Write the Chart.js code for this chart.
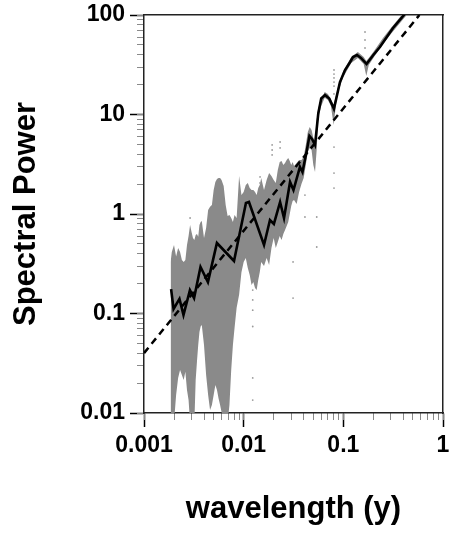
<!DOCTYPE html>
<html>
<head>
<meta charset="utf-8">
<script src="https://cdn.jsdelivr.net/npm/chart.js@4.4.0/dist/chart.umd.min.js"></script>
<style>
  html, body { margin: 0; padding: 0; background: #fff; }
  #caja { width: 449px; height: 533px; }
</style>
</head>
<body>
<div id="caja"><canvas id="grafico"></canvas></div>
<script>
// Marcas de los ejes
var xTicks = [0.001, 0.01, 0.1, 1];
var yTicks = [0.01, 0.1, 1, 10, 100];

// Nube gris del espectro (borde superior e inferior)
var nubeX = [0.00185, 0.0019, 0.002, 0.0021, 0.0022, 0.0023, 0.0024, 0.0025, 0.0026, 0.0027,
   0.0028, 0.0029, 0.003, 0.0031, 0.0032, 0.0033, 0.0034, 0.0035, 0.0036, 0.0037,
   0.0038, 0.004, 0.0042, 0.0044, 0.0046, 0.0048, 0.005, 0.0052, 0.0054, 0.0056,
   0.0058, 0.006, 0.0063, 0.0066, 0.0069, 0.0072, 0.0075, 0.0078, 0.0081, 0.0085,
   0.009, 0.0095, 0.01, 0.0105, 0.011, 0.0115, 0.012, 0.0125, 0.013, 0.0135,
   0.014, 0.0145, 0.015, 0.016, 0.017, 0.018, 0.019, 0.02, 0.021, 0.022,
   0.023, 0.024, 0.025, 0.026, 0.027, 0.028, 0.029, 0.03, 0.031, 0.032,
   0.034, 0.036, 0.038, 0.04, 0.042, 0.044, 0.046, 0.048, 0.05, 0.052,
   0.054, 0.056, 0.06, 0.065, 0.07, 0.075, 0.08, 0.085, 0.09, 0.1,
   0.12, 0.14, 0.16, 0.17, 0.18, 0.2, 0.25, 0.3, 0.4, 0.45];
var nubeAlta = [0.330, 0.415, 0.488, 0.375, 0.455, 0.415, 0.345, 0.330, 0.345, 0.488,
   0.601, 0.775, 0.659, 0.574, 0.548, 0.615, 0.63, 0.59, 0.775, 0.831,
   0.85, 0.574, 0.723, 1.10, 1.18, 1.23, 1.74, 2.10, 2.25, 2.30,
   2.30, 2.20, 1.91, 1.23, 0.955, 0.977, 0.912, 0.831, 0.977, 0.912,
   2.41, 1.55, 1.66, 1.96, 2.05, 1.82, 1.74, 1.74, 1.66, 1.55,
   1.82, 1.96, 2.30, 1.74, 2.20, 2.58, 2.41, 2.20, 2.05, 2.77,
   3.33, 3.41, 3.11, 3.26, 3.49, 3.66, 3.41, 3.11, 3.33, 3.04,
   3.26, 3.49, 3.49, 3.74, 4.94, 6.67, 7.49, 6.98, 5.81, 5.29,
   8.81, 11.6, 14.0, 16.8, 16.1, 14.3, 12.5, 16.1, 20.3, 27.4,
   37.8, 42.5, 37.8, 34.5, 37.0, 42.5, 58.7, 74.0, 104.8, 120];
var nubeBaja = [0.008, 0.008, 0.008, 0.0152, 0.0225, 0.0271, 0.0241, 0.0215, 0.026, 0.0170,
   0.0135, 0.008, 0.008, 0.008, 0.008, 0.0215, 0.033, 0.0482, 0.065, 0.074,
   0.0766, 0.0482, 0.0241, 0.0152, 0.0107, 0.0120, 0.0152, 0.0191, 0.0170, 0.014,
   0.0120, 0.0102, 0.008, 0.008, 0.008, 0.0120, 0.0271, 0.0482, 0.0715, 0.114,
   0.154, 0.26, 0.330, 0.361, 0.287, 0.244, 0.193, 0.207, 0.180, 0.172,
   0.217, 0.26, 0.330, 0.30, 0.361, 0.307, 0.455, 0.574, 0.455, 0.523,
   0.601, 0.548, 0.63, 0.690, 0.757, 0.831, 1.00, 1.20, 1.35, 1.38,
   1.26, 1.66, 2.0, 2.30, 3.11, 4.20, 4.61, 4.40, 3.11, 2.64,
   4.40, 9.2, 12.2, 14.7, 14.0, 12.2, 7.84, 13.4, 17.6, 23.8,
   33.0, 37.0, 32.2, 24.4, 31.4, 37.0, 51.1, 64.4, 91.2, 104.8];

// Puntos sueltos de la nube
var sueltosX = [0.01233, 0.01233, 0.01233, 0.01233, 0.01233, 0.01233,
   0.0806, 0.0806, 0.0806, 0.0806, 0.0806, 0.0806, 0.0806, 0.0806, 0.0806,
   0.165, 0.165, 0.165, 0.0541, 0.0541, 0.0313, 0.0313, 0.0412, 0.0412,
   0.0193, 0.0193, 0.0193, 0.0232, 0.0232, 0.0146, 0.0146, 0.0029];
var sueltosY = [0.172, 0.137, 0.108, 0.074, 0.0225, 0.0135,
   28.0, 25.5, 23.3, 21.2, 19.3, 16.1, 4.71, 2.58, 1.82,
   67.5, 56.1, 46.6, 0.933, 0.466, 0.330, 0.143, 1.55, 0.933,
   4.94, 4.40, 3.92, 5.29, 4.61, 2.36, 2.05, 0.912];

// Curva negra (media)
var mediaX = [0.00187, 0.00198, 0.00227, 0.00249, 0.00289, 0.00318, 0.00369, 0.00438, 0.00539, 0.0080,
   0.01054, 0.0113, 0.016, 0.01836, 0.0201, 0.0232, 0.0254, 0.0292, 0.0316, 0.0367,
   0.0389, 0.0431, 0.0457, 0.0485, 0.052, 0.0561, 0.060, 0.0655, 0.0722, 0.0805,
   0.0925, 0.104, 0.117, 0.125, 0.137, 0.150, 0.171, 0.200, 0.233, 0.272,
   0.315, 0.406, 0.5];
var mediaY = [0.176, 0.111, 0.140, 0.0966, 0.172, 0.143, 0.293, 0.207, 0.511, 0.337,
   1.29, 1.32, 0.488, 0.871, 0.794, 1.32, 0.912, 2.10, 1.74, 2.97,
   2.64, 4.40, 6.08, 5.67, 4.94, 10.3, 14.5, 15.7, 14.5, 11.4,
   21.2, 28.0, 33.7, 37.8, 39.6, 37.0, 32.2, 39.6, 47.7, 59.7,
   74, 100, 125];

// Recta de ajuste (discontinua)
var ajusteX = [0.001, 0.58];
var ajusteY = [0.040, 100];

var fuente = 'Liberation Sans, Arial, Helvetica, sans-serif';

function puntos(xs, ys) {
   return xs.map(function (x, i) { return { x: x, y: ys[i] }; });
}

function marcasMenores(min, max) {
   var v = [];
   var e0 = Math.round(Math.log10(min));
   var e1 = Math.round(Math.log10(max));
   for (var e = e0; e < e1; e++) {
      for (var k = 1; k <= 9; k++) v.push({ value: k * Math.pow(10, e) });
   }
   v.push({ value: max });
   return v;
}

// quita el margen extra que Chart.js reserva para la primera/última etiqueta
function sinRelleno(s) {
   s.paddingLeft = 0;
   s.paddingRight = 0;
   s.paddingTop = 0;
   s.paddingBottom = 0;
}

function ejeMenor(pos, min, max) {
   return {
      type: 'logarithmic', position: pos, weight: 0, min: min, max: max,
      afterBuildTicks: function (s) { s.ticks = marcasMenores(min, max); },
      afterFit: function (s) {
         if (pos === 'left') s.width = 0; else s.height = 0;
         sinRelleno(s);
      },
      ticks: { display: false, autoSkip: false },
      grid: { drawOnChartArea: false, tickLength: 7, tickWidth: 1, tickColor: '#8a8a8a' },
      border: { display: false }
   };
}

var ctx = document.getElementById('grafico').getContext('2d');

new Chart(ctx, {
   type: 'line',
   data: {
      datasets: [{
         label: 'media',
         data: puntos(mediaX, mediaY),
         xAxisID: 'x', yAxisID: 'y',
         borderColor: '#000',
         borderWidth: 2.6,
         pointRadius: 0,
         tension: 0,
         order: 0
      }, {
         label: 'ajuste',
         data: puntos(ajusteX, ajusteY),
         xAxisID: 'x', yAxisID: 'y',
         borderColor: '#000',
         borderWidth: 2.5,
         borderDash: [7, 5],
         pointRadius: 0,
         order: 1
      }, {
         label: 'sueltos',
         data: puntos(sueltosX, sueltosY),
         xAxisID: 'x', yAxisID: 'y',
         showLine: false,
         pointRadius: 0.9,
         pointBorderWidth: 0,
         pointBackgroundColor: '#9a9a9a',
         order: 2
      }, {
         label: 'nube alta',
         data: puntos(nubeX, nubeAlta),
         xAxisID: 'x', yAxisID: 'y',
         borderColor: 'rgba(0,0,0,0)',
         borderWidth: 0,
         pointRadius: 0,
         fill: false,
         order: 3
      }, {
         label: 'nube baja',
         data: puntos(nubeX, nubeBaja),
         xAxisID: 'x', yAxisID: 'y',
         borderColor: 'rgba(0,0,0,0)',
         borderWidth: 0,
         pointRadius: 0,
         fill: '-1',
         backgroundColor: '#8a8a8a',
         order: 4
      }]
   },
   options: {
      responsive: true,
      maintainAspectRatio: false,
      animation: false,
      layout: { padding: { top: 15, right: 6, left: 0, bottom: 0 } },
      plugins: {
         legend: { display: false },
         tooltip: { enabled: false }
      },
      scales: {
         x: {
            type: 'logarithmic', position: 'bottom', weight: 1,
            min: 0.001, max: 1,
            afterBuildTicks: function (s) { s.ticks = xTicks.map(function (v) { return { value: v }; }); },
            afterFit: function (s) { s.height = 120; sinRelleno(s); },
            ticks: {
               autoSkip: false, maxRotation: 0, padding: 5, color: '#000',
               font: { family: fuente, size: 23, weight: 'bold' },
               callback: function (v) { return String(v); }
            },
            grid: { drawOnChartArea: false, tickLength: 14, tickWidth: 1.5, tickColor: '#000' },
            border: { color: '#222', width: 1.5 },
            title: {
               display: true, text: 'wavelength (y)', color: '#000',
               font: { family: fuente, size: 31, weight: 'bold' },
               padding: { top: 0, bottom: 5 }
            }
         },
         xm: ejeMenor('bottom', 0.001, 1),
         y: {
            type: 'logarithmic', position: 'left', weight: 1,
            min: 0.01, max: 100,
            afterBuildTicks: function (s) { s.ticks = yTicks.map(function (v) { return { value: v }; }); },
            afterFit: function (s) { s.width = 144; sinRelleno(s); },
            ticks: {
               autoSkip: false, padding: 5, color: '#000',
               font: { family: fuente, size: 23, weight: 'bold' },
               callback: function (v) { return String(v); }
            },
            grid: { drawOnChartArea: false, tickLength: 14, tickWidth: 1.5, tickColor: '#000' },
            border: { color: '#222', width: 1.5 },
            title: {
               display: true, text: 'Spectral Power', color: '#000',
               font: { family: fuente, size: 31, weight: 'bold' },
               padding: { top: 8, bottom: 0 }
            }
         },
         ym: ejeMenor('left', 0.01, 100),
         // marco superior y derecho
         xt: {
            type: 'linear', position: 'top',
            afterFit: function (s) { s.height = 0; sinRelleno(s); },
            ticks: { display: false },
            grid: { drawOnChartArea: false, drawTicks: false },
            border: { color: '#222', width: 1.5 }
         },
         yr: {
            type: 'linear', position: 'right',
            afterFit: function (s) { s.width = 0; sinRelleno(s); },
            ticks: { display: false },
            grid: { drawOnChartArea: false, drawTicks: false },
            border: { color: '#222', width: 1.5 }
         }
      }
   }
});
</script>
</body>
</html>
